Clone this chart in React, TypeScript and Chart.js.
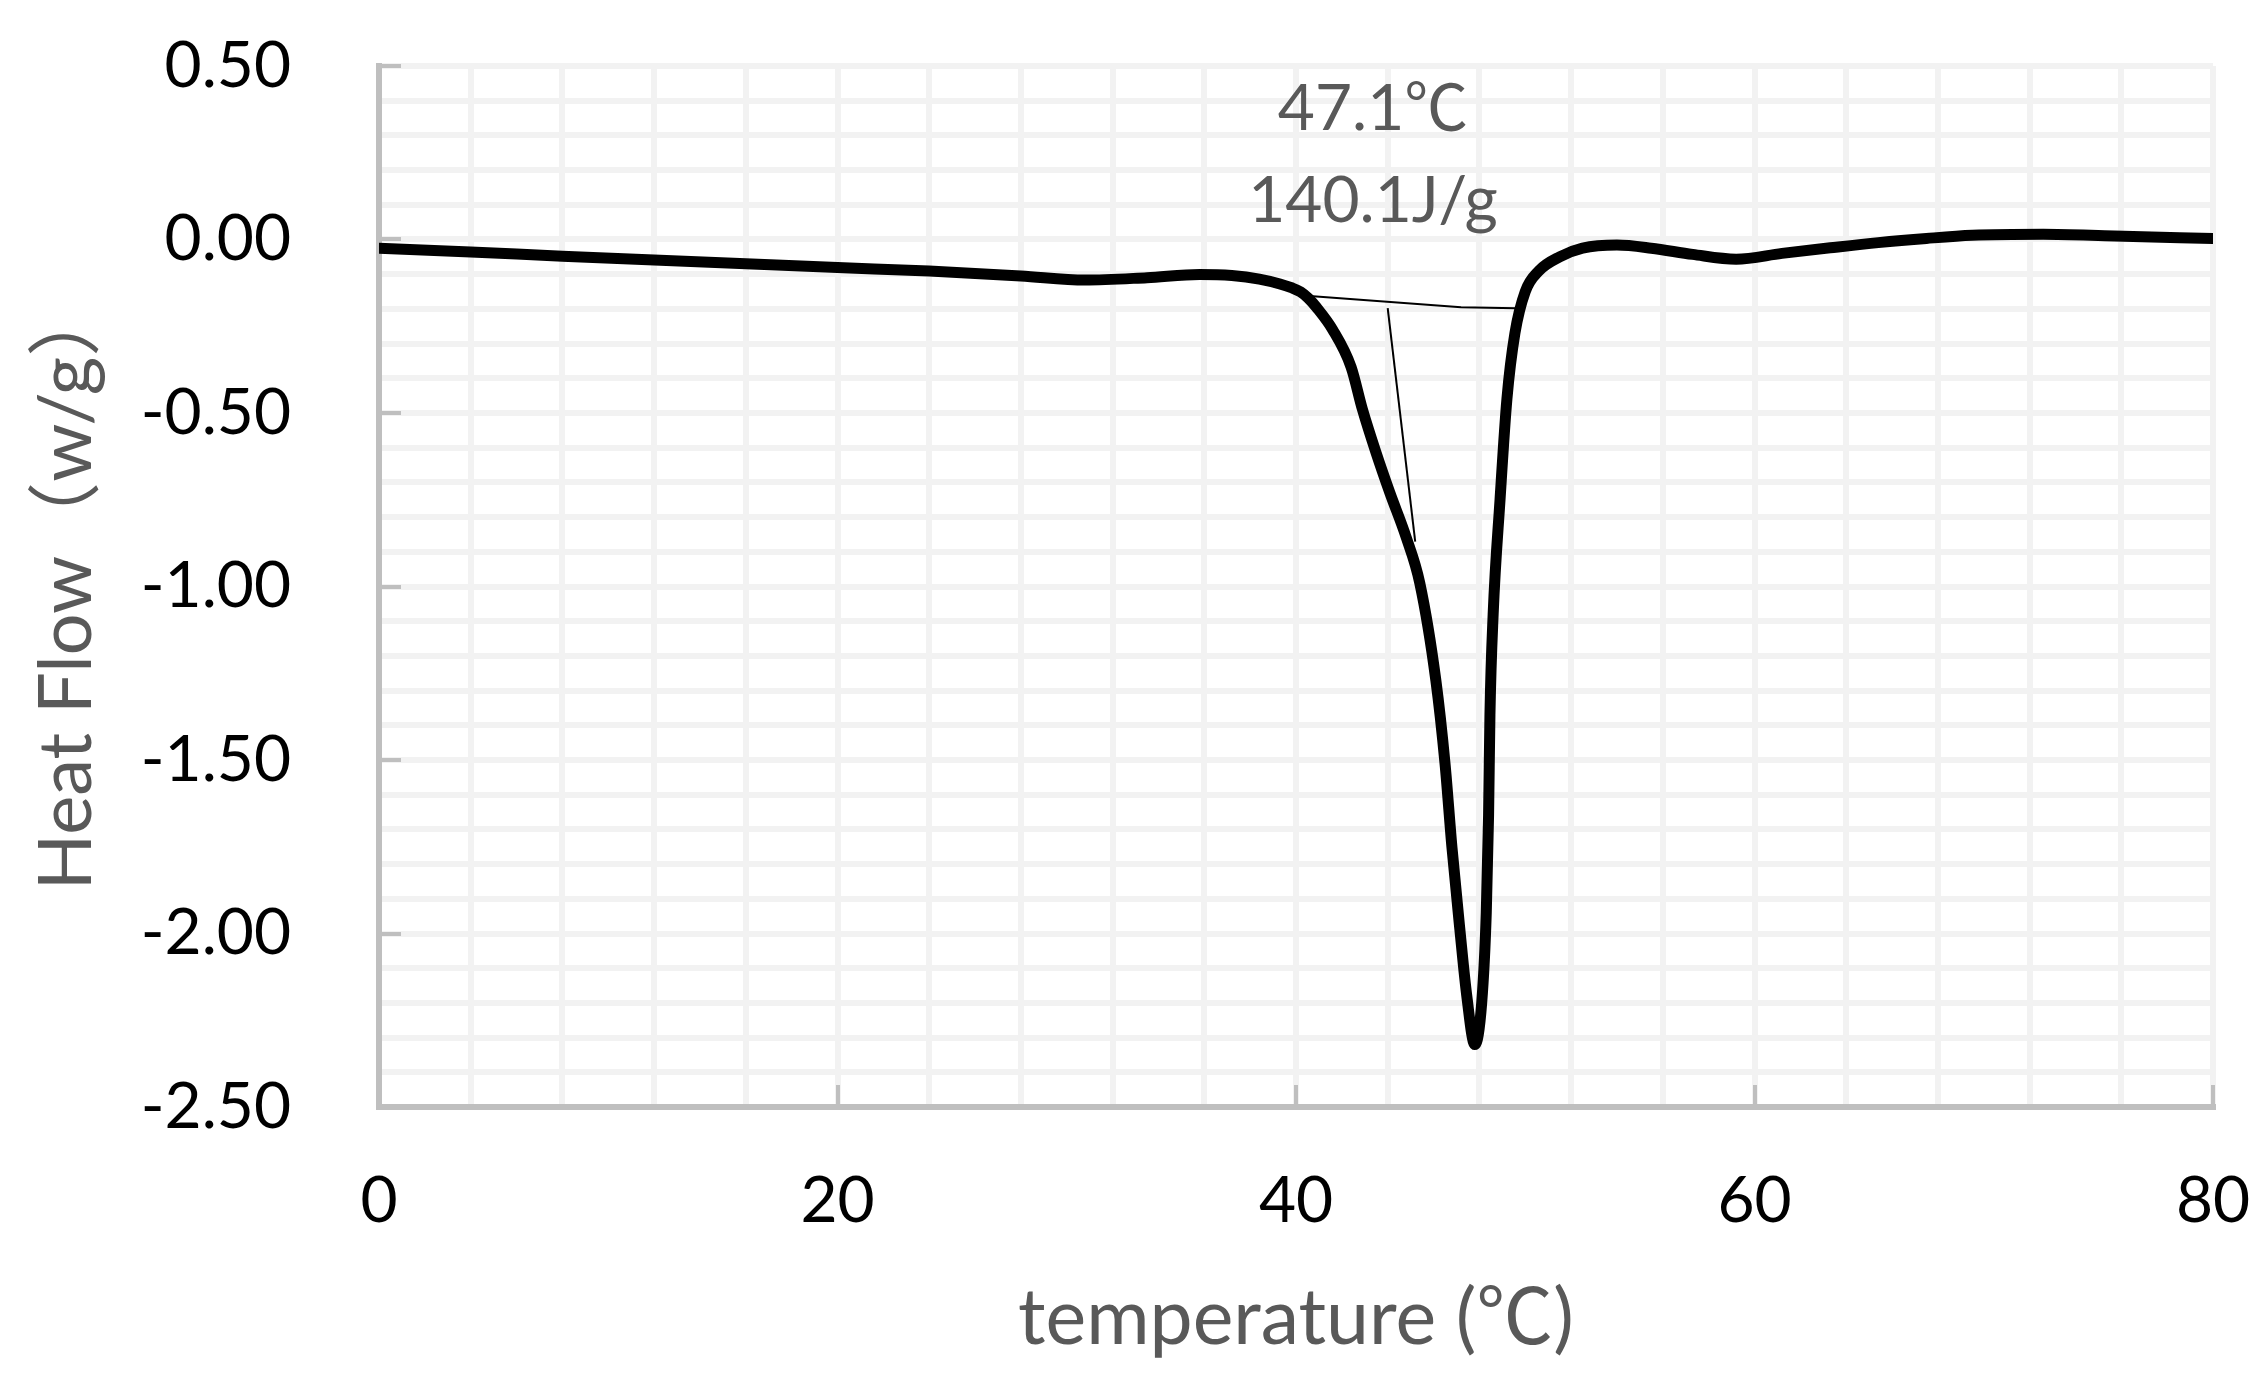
import React, { useEffect, useRef } from 'react';
import { Chart, registerables } from 'chart.js';

Chart.register(...registerables);

// DSC curve: temperature (°C) vs heat flow (W/g)
const temperature = [
  0, 4, 8, 12, 16, 20, 24, 28, 30.8, 33.5, 35.8, 37.2, 38.4, 39.3, 39.8, 40.2,
  40.55, 40.9, 41.6, 42.4, 42.9, 43.5, 44.1, 44.8, 45.4, 46.1, 46.5, 46.8,
  47.15, 47.45, 47.8, 48.1, 48.3, 48.4, 48.46, 48.6, 48.9, 49.2, 49.55, 50.0,
  50.6, 51.5, 52.5, 54.0, 55.5, 57.3, 59.2, 61.2, 63.3, 65.4, 67.5, 69.5, 72.6,
  75.7, 80
];
const heatFlow = [
  -0.025, -0.036, -0.048, -0.059, -0.07, -0.081, -0.091, -0.105, -0.117, -0.11,
  -0.101, -0.104, -0.114, -0.128, -0.139, -0.151, -0.17, -0.196, -0.26, -0.367,
  -0.49, -0.616, -0.731, -0.857, -0.99, -1.27, -1.51, -1.75, -1.99, -2.18,
  -2.32, -2.2, -1.94, -1.66, -1.37, -1.08, -0.75, -0.46, -0.27, -0.15, -0.09,
  -0.05, -0.025, -0.016, -0.025, -0.043, -0.057, -0.04, -0.024, -0.009, 0.003,
  0.012, 0.015, 0.01, 0.003
];

// peak baseline and onset tangent
const baselineT = [40.6, 47.2, 49.6];
const baselineHF = [-0.163, -0.195, -0.198];
const tangentT = [44.0, 45.2];
const tangentHF = [-0.198, -0.871];

// annotation
const noteLines = ['47.1℃', '140.1J/g'];
const noteT = 43.36;
const noteHF = [0.376, 0.111];

const FONT = "Lato, 'Noto Sans CJK SC', sans-serif";
const GRID = '#f2f2f2';
const AXIS = '#bfbfbf';

const toPoints = (xs: number[], ys: number[]) => xs.map((x, i) => ({ x, y: ys[i] }));

const notePlugin = {
  id: 'peakNote',
  afterDatasetsDraw(chart: any) {
    const { ctx, scales } = chart;
    ctx.save();
    ctx.fillStyle = '#595959';
    ctx.font = `64px ${FONT}`;
    ctx.textAlign = 'center';
    ctx.textBaseline = 'middle';
    noteLines.forEach((txt, i) => {
      ctx.fillText(txt, scales.x.getPixelForValue(noteT), scales.y.getPixelForValue(noteHF[i]));
    });
    ctx.restore();
  }
};

const isMult = (v: number, step: number) => Math.abs(v / step - Math.round(v / step)) < 1e-6;

const DscChart: React.FC = () => {
  const canvasRef = useRef<HTMLCanvasElement | null>(null);
  const chartRef = useRef<Chart | null>(null);

  useEffect(() => {
    if (!canvasRef.current) return;
    if (chartRef.current) chartRef.current.destroy();

    chartRef.current = new Chart(canvasRef.current, {
      type: 'line',
      data: {
        datasets: [
          {
            data: toPoints(temperature, heatFlow),
            borderColor: '#000000',
            borderWidth: 11,
            pointRadius: 0,
            cubicInterpolationMode: 'monotone',
            borderCapStyle: 'round'
          },
          {
            data: toPoints(baselineT, baselineHF),
            borderColor: '#000000',
            borderWidth: 2,
            pointRadius: 0,
            tension: 0
          },
          {
            data: toPoints(tangentT, tangentHF),
            borderColor: '#000000',
            borderWidth: 2,
            pointRadius: 0,
            tension: 0
          }
        ]
      },
      options: {
        animation: false,
        responsive: true,
        maintainAspectRatio: false,
        layout: { padding: { top: 66, right: 45, left: 0, bottom: 0 } },
        plugins: {
          legend: { display: false },
          tooltip: { enabled: false }
        },
        scales: {
          x: {
            type: 'linear',
            min: 0,
            max: 80,
            grid: {
              color: GRID,
              lineWidth: 6,
              tickLength: -22,
              tickWidth: 4,
              tickColor: (c: any) => (c.tick && isMult(c.tick.value, 20) ? AXIS : 'transparent')
            },
            border: { color: AXIS, width: 6 },
            ticks: {
              stepSize: 4,
              autoSkip: false,
              maxRotation: 0,
              padding: 78,
              color: '#000000',
              font: { family: FONT, size: 64 },
              callback: (v: any) => (isMult(Number(v), 20) ? String(v) : '')
            },
            title: {
              display: true,
              text: 'temperature (℃)',
              color: '#595959',
              font: { family: FONT, size: 77 },
              padding: { top: 0, bottom: 33 }
            },
            afterFit: (axis: any) => {
              axis.height = 291;
              // let layout.padding alone decide the plot edges
              axis.paddingLeft = 0;
              axis.paddingRight = 0;
            }
          },
          y: {
            min: -2.5,
            max: 0.5,
            grid: {
              color: GRID,
              lineWidth: 6,
              tickLength: -22,
              tickWidth: 4,
              tickColor: (c: any) => (c.tick && isMult(c.tick.value, 0.5) ? AXIS : 'transparent')
            },
            border: { color: AXIS, width: 6 },
            ticks: {
              stepSize: 0.1,
              autoSkip: false,
              padding: 110,
              color: '#000000',
              font: { family: FONT, size: 64 },
              callback: (v: any) => (isMult(Number(v), 0.5) ? Number(v).toFixed(2) : '')
            },
            title: {
              display: true,
              text: 'Heat Flow（w/g）',
              color: '#595959',
              font: { family: FONT, size: 74 },
              padding: { top: 23, bottom: 0 }
            },
            afterFit: (axis: any) => {
              axis.width = 379;
              axis.paddingTop = 0;
              axis.paddingBottom = 0;
            }
          }
        }
      },
      plugins: [notePlugin]
    } as any);

    return () => {
      if (chartRef.current) {
        chartRef.current.destroy();
        chartRef.current = null;
      }
    };
  }, []);

  return (
    <div style={{ width: '2258px', height: '1398px', position: 'relative' }}>
      <canvas ref={canvasRef} />
    </div>
  );
};

export default function App() {
  useEffect(() => {
    document.body.style.margin = '0';
  }, []);
  return <DscChart />;
}
